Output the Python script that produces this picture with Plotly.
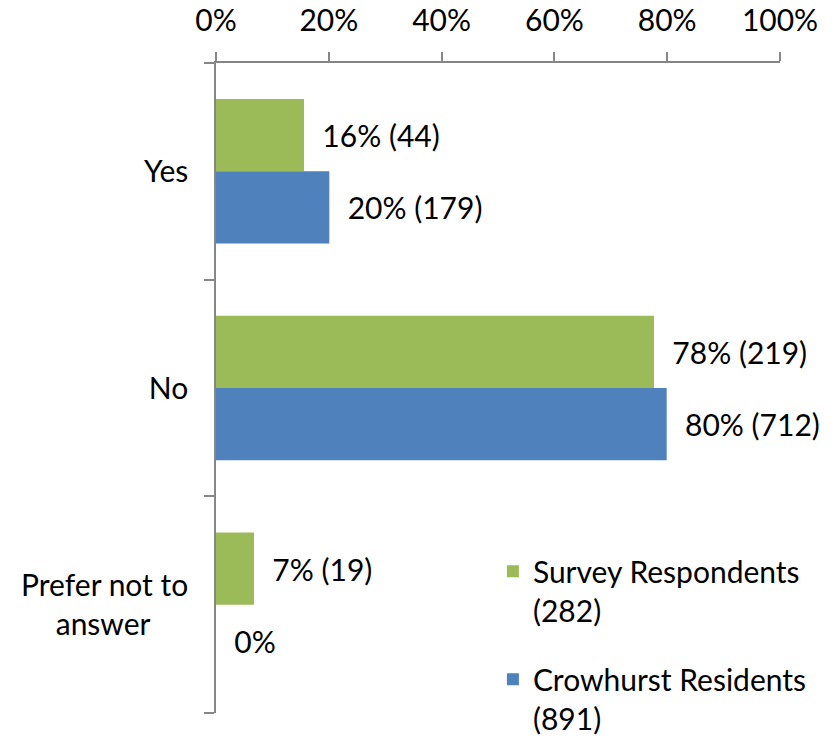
import plotly.graph_objects as go

# Responses by group
categories = ["Yes", "No", "Prefer not to answer"]
category_labels = ["Yes", "No", "Prefer not to<br>answer\u00a0\u00a0\u00a0\u00a0\u00a0"]
survey_counts = [44, 219, 19]
survey_total = 282
resident_counts = [179, 712, 0]
resident_total = 891

x_tick_vals = [0, 0.2, 0.4, 0.6, 0.8, 1.0]
x_tick_text = ["0%", "20%", "40%", "60%", "80%", "100%"]

FONT = "Lato, 'Open Sans', sans-serif"
FONT_SIZE = 30
AXIS_GRAY = "#868686"
GAP = "\u00a0\u00a0"


def shares(counts, total):
    return [c / total for c in counts]


def labels(counts, total):
    out = []
    for c in counts:
        if c == 0:
            out.append(GAP + "0%")
        else:
            out.append(f"{GAP}{round(100 * c / total):.0f}% ({c})")
    return out


fig = go.Figure()
fig.add_trace(go.Bar(
    name=f"Survey Respondents<br>({survey_total})",
    y=categories, x=shares(survey_counts, survey_total), orientation="h",
    marker=dict(color="#9BBB59", line=dict(width=0)),
    text=labels(survey_counts, survey_total), textposition="outside",
    cliponaxis=False, legendgroup="a",
))
fig.add_trace(go.Bar(
    name=f"Crowhurst Residents<br>({resident_total})",
    y=categories, x=shares(resident_counts, resident_total), orientation="h",
    marker=dict(color="#4F81BD", line=dict(width=0)),
    text=labels(resident_counts, resident_total), textposition="outside",
    cliponaxis=False, legendgroup="b",
))

fig.update_traces(textfont=dict(family=FONT, size=FONT_SIZE, color="#000000"))

fig.update_layout(
    width=833, height=740,
    margin=dict(l=216, r=53, t=63, b=27, autoexpand=False),
    paper_bgcolor="white", plot_bgcolor="white",
    font=dict(family=FONT, size=FONT_SIZE, color="#000000"),
    barmode="group", bargap=0.333, bargroupgap=0,
    showlegend=True,
    legend=dict(
        x=0.491, y=0.258, xanchor="left", yanchor="top",
        traceorder="grouped", valign="top",
        tracegroupgap=27, itemwidth=30,
        font=dict(family=FONT, size=FONT_SIZE, color="#000000"),
        bgcolor="rgba(0,0,0,0)",
    ),
    xaxis=dict(
        side="top", range=[0, 1],
        tickvals=x_tick_vals, ticktext=x_tick_text,
        showgrid=False, zeroline=False,
        showline=True, linecolor=AXIS_GRAY, linewidth=1.5,
        ticks="outside", ticklen=9, tickcolor=AXIS_GRAY, tickwidth=1.5,
        ticklabelstandoff=9,
    ),
    yaxis=dict(
        categoryorder="array", categoryarray=categories,
        autorange="reversed",
        tickvals=categories, ticktext=category_labels,
        tickson="boundaries",
        showgrid=False, zeroline=False,
        showline=True, linecolor=AXIS_GRAY, linewidth=1.5,
        ticks="outside", ticklen=10, tickcolor=AXIS_GRAY, tickwidth=1.5,
        ticklabelstandoff=20,
    ),
)

fig.write_html("out.html")
